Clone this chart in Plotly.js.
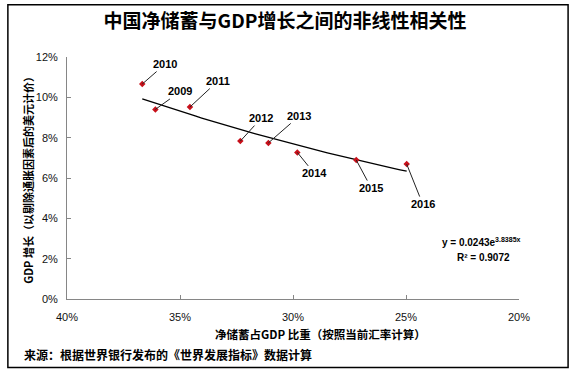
<!DOCTYPE html>
<html>
<head>
<meta charset="utf-8">
<script src="https://cdn.plot.ly/plotly-3.0.1.min.js"></script>
<style>
html,body{margin:0;padding:0;background:#fff;}
#chart{width:571px;height:375px;}
</style>
</head>
<body>
<div id="chart"></div>
<script>
// Data (fractions): net savings share of GDP vs GDP growth
const years = ["2009","2010","2011","2012","2013","2014","2015","2016"];
const savingsShare = [0.3609, 0.3667, 0.3456, 0.3233, 0.3109, 0.2981, 0.2720, 0.2497];
const gdpGrowth    = [0.0940, 0.1066, 0.0952, 0.0783, 0.0774, 0.0727, 0.0689, 0.0669];
// Label offsets (pixels) for the year call-outs
const labelDx = [25, 23, 28, 21, 31, 17, 15, 16];
const labelDy = [-18, -20, -26, -23, -27, 21, 28, 40];
// Exponential trendline y = A * e^(B x) as reported on the chart
const TREND_A = 0.0243, TREND_B = 3.8385;
const trendXStart = 0.3667, trendXEnd = 0.2497;

const tx = [], ty = [];
const N = 40;
for (let i = 0; i <= N; i++) {
  const x = trendXStart + (trendXEnd - trendXStart) * i / N;
  tx.push(x); ty.push(TREND_A * Math.exp(TREND_B * x));
}

const cjk = '"Noto Sans CJK SC", "Noto Sans", sans-serif';
const lat = '"Liberation Sans", Arial, sans-serif';

const traces = [
  {x: tx, y: ty, mode: 'lines', line: {color: '#000', width: 1.3}, hoverinfo: 'skip'},
  {x: savingsShare, y: gdpGrowth, mode: 'markers', text: years,
   marker: {symbol: 'diamond', size: 5, color: '#C8101A'}}
];

const annotations = years.map((yr, i) => ({
  x: savingsShare[i], y: gdpGrowth[i], xref: 'x', yref: 'y',
  text: '<b>' + yr + '</b>', showarrow: true, arrowhead: 0, arrowwidth: 1,
  arrowcolor: '#222', ax: labelDx[i], ay: labelDy[i],
  font: {family: lat, size: 11, color: '#000'}
}));

annotations.push(
  {xref: 'paper', yref: 'paper', x: -0.0865, y: 0.505, xanchor: 'center', yanchor: 'middle',
   textangle: -90, showarrow: false,
   text: '<b>GDP 增长（以剔除通胀因素后的美元计价）</b>', font: {family: cjk, size: 11, color: '#000'}},
  {xref: 'paper', yref: 'paper', x: 0.561, y: -0.144, xanchor: 'center', yanchor: 'middle', showarrow: false,
   text: '<b>净储蓄占GDP 比重（按照当前汇率计算）</b>', font: {family: cjk, size: 11.5, color: '#000'}},
  {xref: 'paper', yref: 'paper', x: -0.0998, y: -0.231, xanchor: 'left', yanchor: 'middle', showarrow: false,
   text: '<b>来源：根据世界银行发布的《世界发展指标》数据计算</b>', font: {family: cjk, size: 12, color: '#000'}},
  {xref: 'paper', yref: 'paper', x: 0.916, y: 0.237, xanchor: 'center', yanchor: 'middle', showarrow: false,
   text: '<b>y = 0.0243e<sup>3.8385x</sup></b>', font: {family: lat, size: 10, color: '#000'}},
  {xref: 'paper', yref: 'paper', x: 0.922, y: 0.171, xanchor: 'center', yanchor: 'middle', showarrow: false,
   text: '<b>R² = 0.9072</b>', font: {family: lat, size: 10, color: '#000'}}
);

const layout = {
  width: 571, height: 375,
  margin: {l: 67, r: 52, t: 57, b: 76},
  paper_bgcolor: '#fff', plot_bgcolor: '#fff',
  showlegend: false,
  title: {text: '<b>中国净储蓄与GDP增长之间的非线性相关性</b>', x: 285/571, xref: 'container', xanchor: 'center',
          y: 1 - 21/375, yanchor: 'middle', font: {family: cjk, size: 19, color: '#000'}},
  xaxis: {range: [0.40, 0.20], dtick: 0.05, tick0: 0.20, tickformat: '.0%',
          showgrid: false, zeroline: false, showline: true, linecolor: '#868686', linewidth: 1,
          ticks: 'inside', ticklen: 4, tickcolor: '#868686', ticklabelstandoff: 8,
          tickfont: {family: lat, size: 11, color: '#111'}},
  yaxis: {range: [0, 0.12], dtick: 0.02, tickformat: '.0%',
          showgrid: false, zeroline: false, showline: true, linecolor: '#868686', linewidth: 1,
          ticks: 'inside', ticklen: 4, tickcolor: '#868686', ticklabelstandoff: 6,
          tickfont: {family: lat, size: 11, color: '#111'}},
  annotations: annotations,
  shapes: [{type: 'rect', xref: 'paper', yref: 'paper',
            x0: -0.1308, x1: 1.1086, y0: -0.2828, y1: 1.216,
            line: {color: '#000', width: 1.5}}]
};

Plotly.newPlot('chart', traces, layout, {displayModeBar: false, staticPlot: true});
</script>
</body>
</html>
